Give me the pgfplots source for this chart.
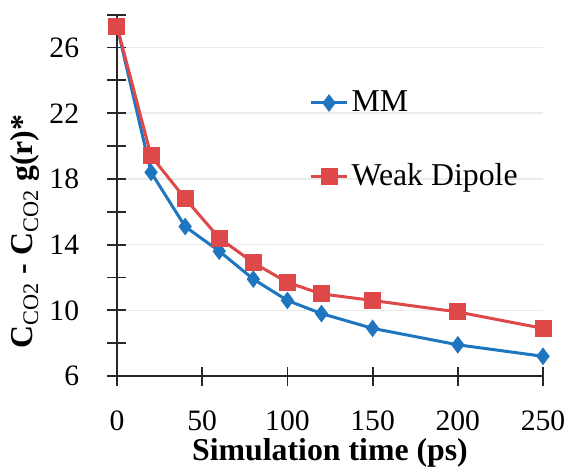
\documentclass[border=0pt]{standalone}
\usepackage{fontspec}
\setmainfont{Liberation Serif}
\usepackage{pgfplots}
\pgfplotsset{compat=1.18}
\definecolor{mmblue}{RGB}{30,118,192}
\definecolor{wdred}{RGB}{222,72,72}
\definecolor{axgray}{RGB}{40,40,40}
\definecolor{gridgray}{RGB}{235,235,235}
\begin{document}
\fontsize{14.8}{17}\selectfont
\begin{tikzpicture}
\begin{axis}[
  name=ax,
  scale only axis,
  width=213pt, height=180.65pt,
  xmin=0, xmax=250, ymin=6, ymax=28,
  clip=false,
  axis x line*=bottom, axis y line*=left,
  axis line style={axgray, line width=1pt},
  xtick={0,50,...,250},
  ytick={6,10,...,26},
  extra y ticks={8,12,16,20,24,28},
  extra y tick labels={},
  extra y tick style={grid=none},
  ymajorgrids,
  grid style={gridgray, line width=0.8pt},
  tick align=center,
  major tick length=9.5pt,
  tick style={axgray, line width=0.9pt},
  /pgf/number format/assume math mode=true,
  ticklabel style={font=\fontsize{14.8}{17}\selectfont, inner sep=0pt},
  every y tick label/.append style={anchor=east, xshift=-14pt},
  every x tick label/.append style={anchor=base, yshift=-22.5pt},
  xlabel={\textbf{Simulation time (ps)}},
  xlabel style={at={(axis description cs:0.5,0)}, anchor=base, yshift=-42.2pt, inner sep=0pt, font=\fontsize{15.9}{18}\selectfont},
  ylabel={\textbf{C}\textsubscript{CO2} \textbf{-} \textbf{C}\textsubscript{CO2} \textbf{g(r)*}},
  ylabel style={at={(axis description cs:0,0.40)}, anchor=base, yshift=42pt, inner sep=0pt, font=\fontsize{15.9}{18}\selectfont},
  legend style={draw=none, fill=none, at={(axis description cs:0.451,0.80)}, anchor=north west,
    inner sep=0pt, row sep=21pt, font=\fontsize{15.9}{18}\selectfont,
    nodes={inner sep=1.5pt}},
  legend cell align=left,
  legend image code/.code={
    \draw[#1, mark repeat=2, mark phase=2] plot coordinates {(0pt,0pt) (9pt,0pt) (18pt,0pt)};},
]
\addplot[mmblue, line width=1.5pt, mark=diamond*, mark size=3.2pt, mark options={solid, fill=mmblue, draw=mmblue}]
  coordinates {(0,27.3) (20,18.4) (40,15.1) (60,13.6) (80,11.9) (100,10.6) (120,9.8) (150,8.9) (200,7.9) (250,7.2)};
\addlegendentry{MM}
\addplot[wdred, line width=1.5pt, mark=square*, mark size=3.5pt, mark options={solid, fill=wdred, draw=wdred}]
  coordinates {(0,27.3) (20,19.4) (40,16.8) (60,14.4) (80,12.9) (100,11.7) (120,11.0) (150,10.6) (200,9.9) (250,8.9)};
\addlegendentry{Weak Dipole}
\end{axis}
\pgfresetboundingbox
\path[use as bounding box] ([shift={(-58.5pt,-47.5pt)}]ax.south west) rectangle ([shift={(14pt,7.35pt)}]ax.north east);
\end{tikzpicture}
\end{document}
